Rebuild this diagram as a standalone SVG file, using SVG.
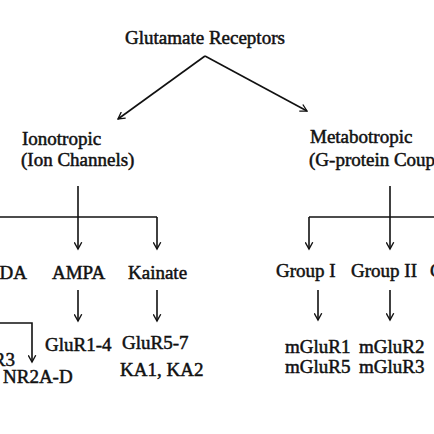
<svg xmlns="http://www.w3.org/2000/svg" width="434" height="434" viewBox="0 0 434 434">
<style>
text{font-family:"Liberation Serif","Times New Roman",serif;font-size:19px;fill:#111;stroke:#111;stroke-width:0.5}
.c line,.c path{stroke:#111;stroke-width:1.6;fill:none}
</style>
<defs>
<marker id="ah" viewBox="0 0 12 12" refX="10" refY="6" markerWidth="9" markerHeight="9" markerUnits="userSpaceOnUse" orient="auto">
<path d="M1,1 L10,6 L1,11" fill="none" stroke="#111" stroke-width="1.8"/>
</marker>
</defs>
<rect width="434" height="434" fill="#fff"/>
<g class="c" id="connectors">
<line x1="205" y1="56" x2="118" y2="119" marker-end="url(#ah)"/>
<line x1="205" y1="56" x2="307" y2="111" marker-end="url(#ah)"/>
<line x1="78" y1="186" x2="78" y2="217"/>
<line x1="0" y1="217" x2="157" y2="217"/>
<line x1="78" y1="217" x2="78" y2="249" marker-end="url(#ah)"/>
<line x1="157" y1="217" x2="157" y2="249" marker-end="url(#ah)"/>
<line x1="78" y1="290" x2="78" y2="321" marker-end="url(#ah)"/>
<line x1="157" y1="290" x2="157" y2="321" marker-end="url(#ah)"/>
<path d="M0,323 L32,323 L32,362" marker-end="url(#ah)"/>
<line x1="390" y1="186" x2="390" y2="217"/>
<line x1="309" y1="217" x2="434" y2="217"/>
<line x1="309" y1="217" x2="309" y2="249" marker-end="url(#ah)"/>
<line x1="390" y1="217" x2="390" y2="249" marker-end="url(#ah)"/>
<line x1="318" y1="290" x2="318" y2="320" marker-end="url(#ah)"/>
<line x1="390" y1="290" x2="390" y2="320" marker-end="url(#ah)"/>
</g>
<g id="root"><text x="125" y="44">Glutamate Receptors</text></g>
<g id="ionotropic"><text x="22" y="145">Ionotropic</text><text x="21" y="166">(Ion Channels)</text></g>
<g id="metabotropic"><text x="310" y="143">Metabotropic</text><text x="309" y="166">(G-protein Coupled)</text></g>
<g id="nmda"><text x="27" y="279" text-anchor="end">NMDA</text></g>
<g id="ampa"><text x="52" y="279">AMPA</text></g>
<g id="kainate"><text x="128" y="279">Kainate</text></g>
<g id="nr3"><text x="15" y="366" text-anchor="end">NR3</text></g>
<g id="nr2"><text x="3" y="383">NR2A-D</text></g>
<g id="glur14"><text x="45" y="351">GluR1-4</text></g>
<g id="glur57"><text x="122" y="349">GluR5-7</text><text x="120" y="376">KA1, KA2</text></g>
<g id="group1"><text x="276" y="277">Group I</text></g>
<g id="group2"><text x="351" y="277">Group II</text></g>
<g id="group3"><text x="430" y="277">Group III</text></g>
<g id="mglur15"><text x="285" y="353">mGluR1</text><text x="285" y="373">mGluR5</text></g>
<g id="mglur23"><text x="359" y="353">mGluR2</text><text x="359" y="373">mGluR3</text></g>
</svg>
